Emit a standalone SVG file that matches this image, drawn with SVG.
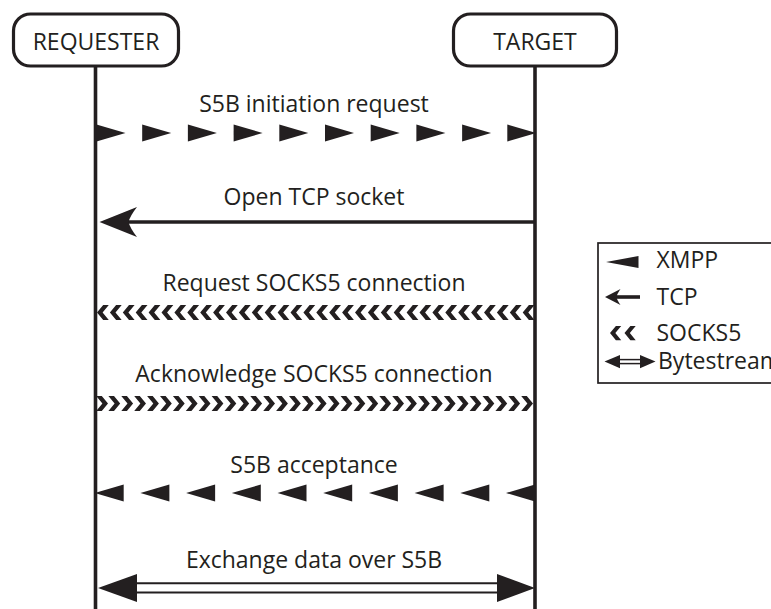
<svg xmlns="http://www.w3.org/2000/svg" xmlns:xlink="http://www.w3.org/1999/xlink" width="771" height="609" viewBox="0 0 771 609">
<style>
  .box { fill: #ffffff; stroke: #231f20; stroke-width: 3.2; }
  .life { stroke: #231f20; stroke-width: 3.6; fill: none; }
  .lbl { font-family: "Open Sans", "Liberation Sans", sans-serif; font-size: 23px; fill: #231f20; }
  .mid { text-anchor: middle; }
  .ink { fill: #231f20; stroke: none; }
  .ln { stroke: #231f20; fill: none; }
</style>
<defs>
  <path id="triR" d="M0,-8.5 L29,0 L0,8.5 Z" class="ink"/>
  <path id="triL" d="M0,0 L29,-8.5 L29,8.5 Z" class="ink"/>
  <path id="chevL" d="M0,0 L6.2,-7.5 L11.8,-7.5 L5.6,0 L11.8,7.5 L6.2,7.5 Z" class="ink"/>
  <path id="chevR" d="M0,0 L-6.2,-7.5 L-11.8,-7.5 L-5.6,0 L-11.8,7.5 L-6.2,7.5 Z" class="ink"/>
</defs>
<rect width="771" height="609" fill="#ffffff"/>

<g id="node-requester">
  <line class="life" x1="95.5" y1="66" x2="95.5" y2="609"/>
  <rect class="box" x="13.5" y="14" width="165" height="52" rx="17"/>
  <text class="lbl mid" x="96" y="50">REQUESTER</text>
</g>
<g id="node-target">
  <line class="life" x1="535" y1="66" x2="535" y2="609"/>
  <rect class="box" x="453.5" y="14" width="163" height="52" rx="17"/>
  <text class="lbl mid" x="535" y="50">TARGET</text>
</g>

<g id="connectors">
  <g id="msg-s5b-init">
    <g transform="translate(0,133)">
      <use href="#triR" x="96.5"/><use href="#triR" x="142.2"/><use href="#triR" x="187.9"/><use href="#triR" x="233.6"/><use href="#triR" x="279.3"/>
      <use href="#triR" x="325"/><use href="#triR" x="370.7"/><use href="#triR" x="416.4"/><use href="#triR" x="462.1"/><use href="#triR" x="507.3"/>
    </g>
    <text class="lbl mid" x="314" y="112">S5B initiation request</text>
  </g>
  <g id="msg-open-tcp">
    <line class="ln" x1="126" y1="222" x2="535" y2="222" stroke-width="3.6"/>
    <path class="ink" d="M99.5,222 L137,207 Q130,216 128.5,222 Q130,228 137,237 Z"/>
    <text class="lbl mid" x="314" y="205">Open TCP socket</text>
  </g>
  <g id="msg-socks-req">
    <g transform="translate(0,312.5)">
      <use href="#chevL" x="97"/><use href="#chevL" x="109.9"/><use href="#chevL" x="122.8"/><use href="#chevL" x="135.7"/><use href="#chevL" x="148.6"/>
      <use href="#chevL" x="161.5"/><use href="#chevL" x="174.4"/><use href="#chevL" x="187.3"/><use href="#chevL" x="200.2"/><use href="#chevL" x="213.1"/>
      <use href="#chevL" x="226"/><use href="#chevL" x="238.9"/><use href="#chevL" x="251.8"/><use href="#chevL" x="264.7"/><use href="#chevL" x="277.6"/>
      <use href="#chevL" x="290.5"/><use href="#chevL" x="303.4"/><use href="#chevL" x="316.3"/><use href="#chevL" x="329.2"/><use href="#chevL" x="342.1"/>
      <use href="#chevL" x="355"/><use href="#chevL" x="367.9"/><use href="#chevL" x="380.8"/><use href="#chevL" x="393.7"/><use href="#chevL" x="406.6"/>
      <use href="#chevL" x="419.5"/><use href="#chevL" x="432.4"/><use href="#chevL" x="445.3"/><use href="#chevL" x="458.2"/><use href="#chevL" x="471.1"/>
      <use href="#chevL" x="484"/><use href="#chevL" x="496.9"/><use href="#chevL" x="509.8"/><use href="#chevL" x="522.7"/>
    </g>
    <text class="lbl mid" x="314" y="290.5">Request SOCKS5 connection</text>
  </g>
  <g id="msg-socks-ack">
    <g transform="translate(0,403.5)">
      <use href="#chevR" x="533"/><use href="#chevR" x="520.1"/><use href="#chevR" x="507.2"/><use href="#chevR" x="494.3"/><use href="#chevR" x="481.4"/>
      <use href="#chevR" x="468.5"/><use href="#chevR" x="455.6"/><use href="#chevR" x="442.7"/><use href="#chevR" x="429.8"/><use href="#chevR" x="416.9"/>
      <use href="#chevR" x="404"/><use href="#chevR" x="391.1"/><use href="#chevR" x="378.2"/><use href="#chevR" x="365.3"/><use href="#chevR" x="352.4"/>
      <use href="#chevR" x="339.5"/><use href="#chevR" x="326.6"/><use href="#chevR" x="313.7"/><use href="#chevR" x="300.8"/><use href="#chevR" x="287.9"/>
      <use href="#chevR" x="275"/><use href="#chevR" x="262.1"/><use href="#chevR" x="249.2"/><use href="#chevR" x="236.3"/><use href="#chevR" x="223.4"/>
      <use href="#chevR" x="210.5"/><use href="#chevR" x="197.6"/><use href="#chevR" x="184.7"/><use href="#chevR" x="171.8"/><use href="#chevR" x="158.9"/>
      <use href="#chevR" x="146"/><use href="#chevR" x="133.1"/><use href="#chevR" x="120.2"/><use href="#chevR" x="108"/>
    </g>
    <text class="lbl mid" x="314" y="382">Acknowledge SOCKS5 connection</text>
  </g>
  <g id="msg-s5b-accept">
    <g transform="translate(0,493)">
      <use href="#triL" x="506"/><use href="#triL" x="460.3"/><use href="#triL" x="414.6"/><use href="#triL" x="368.9"/><use href="#triL" x="323.2"/>
      <use href="#triL" x="277.5"/><use href="#triL" x="231.8"/><use href="#triL" x="186.1"/><use href="#triL" x="140.4"/><use href="#triL" x="94.7"/>
    </g>
    <text class="lbl mid" x="314" y="472.5">S5B acceptance</text>
  </g>
  <g id="msg-exchange">
    <line class="ln" x1="130" y1="583.2" x2="505" y2="583.2" stroke-width="2"/>
    <line class="ln" x1="130" y1="592.6" x2="505" y2="592.6" stroke-width="2"/>
    <path class="ink" d="M98,588 L137,574 L137,602 Z"/>
    <path class="ink" d="M535,588 L497,574 L497,602 Z"/>
    <text class="lbl mid" x="314" y="568">Exchange data over S5B</text>
  </g>
</g>

<g id="legend">
  <rect x="598" y="243" width="200" height="140" fill="#ffffff" stroke="#231f20" stroke-width="1.7"/>
  <path class="ink" d="M606,262 L638.5,256 L638.5,268 Z"/>
  <text class="lbl" x="656.5" y="268">XMPP</text>
  <line class="ln" x1="615" y1="297" x2="640" y2="297" stroke-width="3.6"/>
  <path class="ink" d="M605,297 L620.5,289 Q617,294 616.5,297 Q617,300 620.5,305 Z"/>
  <text class="lbl" x="656.5" y="305">TCP</text>
  <g transform="translate(0,333)">
    <use href="#chevL" x="610" transform="translate(610,0) scale(0.95) translate(-610,0)"/>
    <use href="#chevL" x="624.5" transform="translate(624.5,0) scale(0.95) translate(-624.5,0)"/>
  </g>
  <text class="lbl" x="656.5" y="340.5">SOCKS5</text>
  <line class="ln" x1="617" y1="359.6" x2="643" y2="359.6" stroke-width="1.5"/>
  <line class="ln" x1="617" y1="363.6" x2="643" y2="363.6" stroke-width="1.5"/>
  <path class="ink" d="M604.5,361.6 L620,355 L620,368.2 Z"/>
  <path class="ink" d="M655.5,361.6 L640,355 L640,368.2 Z"/>
  <text class="lbl" x="658" y="368.5">Bytestream</text>
</g>
</svg>
